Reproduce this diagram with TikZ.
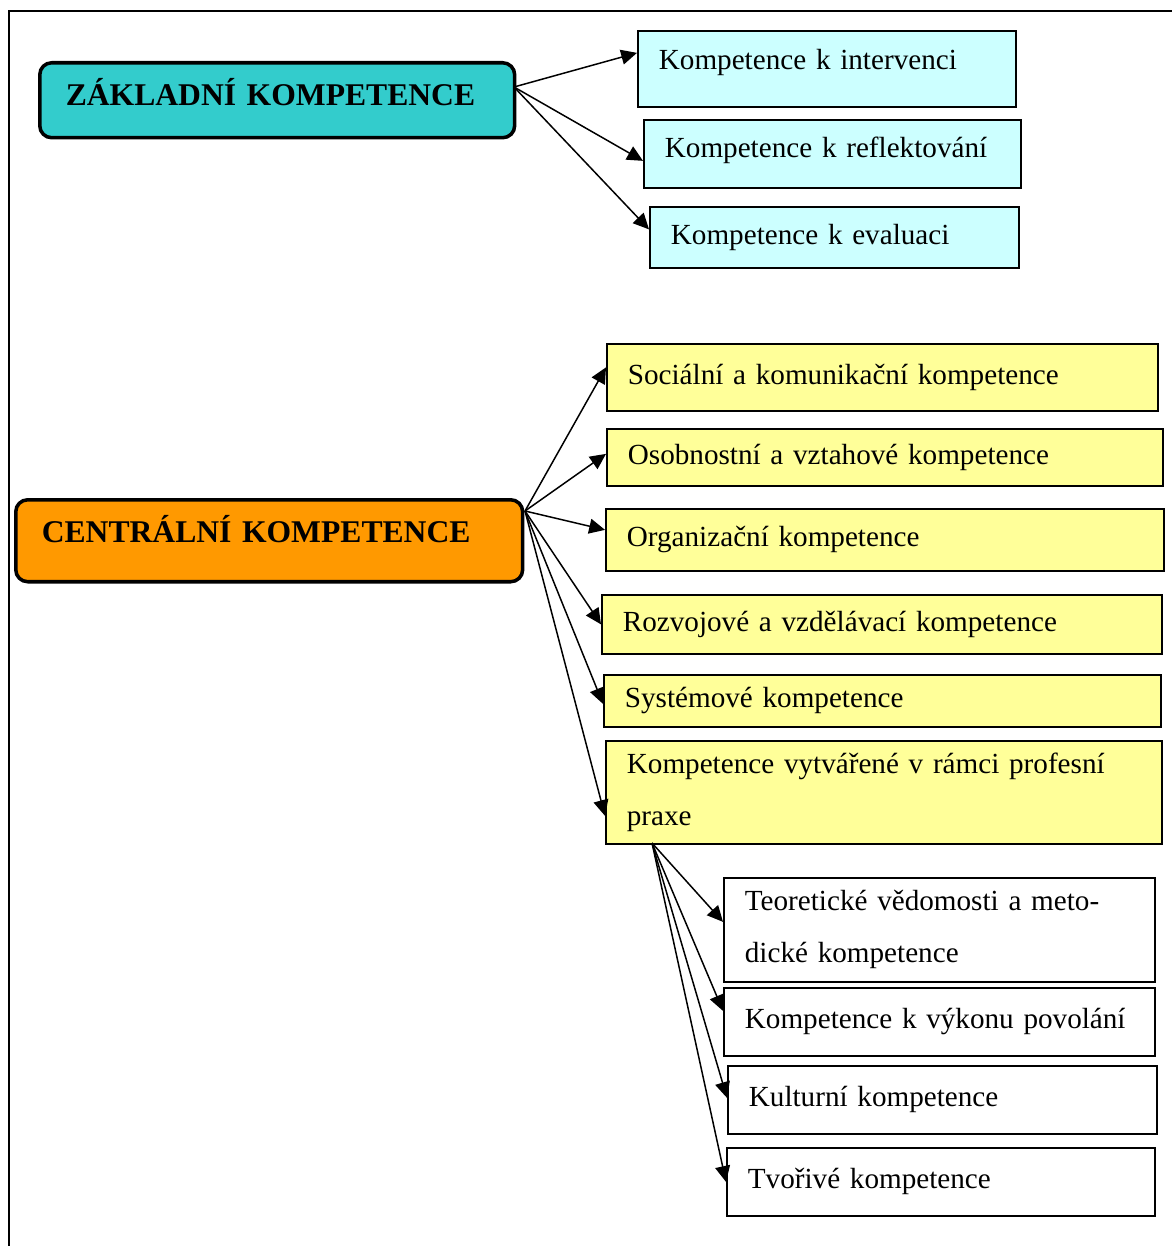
\documentclass[tikz,border=0pt]{standalone}
\usepackage{fontspec}
\setmainfont{Liberation Serif}
\usetikzlibrary{arrows.meta}

\definecolor{tealfill}{HTML}{33CCCC}
\definecolor{cyanfill}{HTML}{CCFFFF}
\definecolor{orangefill}{HTML}{FF9900}
\definecolor{yellowfill}{HTML}{FFFF99}

\begin{document}
\begin{tikzpicture}[x=0.02cm, y=-0.02cm, >={Triangle[length=9pt,width=8.5pt]},
  box/.style={draw, line width=1pt, anchor=north west, align=left, inner xsep=0.42cm, inner ysep=0pt,
    font=\fontsize{16.6}{29.6}\selectfont},
  cyanbox/.style={box, fill=cyanfill},
  yellowbox/.style={box, fill=yellowfill},
  whitebox/.style={box, fill=white},
  headbox/.style={draw, line width=2pt, rounded corners=0.24cm, anchor=north west, align=left,
    inner xsep=0.52cm, inner ysep=0pt, font=\bfseries\fontsize{18}{20}\selectfont},
  link/.style={->, line width=0.85pt}]
  \useasboundingbox (0,0) rectangle (1172,1246);
  \draw[line width=1.2pt] (9,1246) -- (9,11) -- (1172,11);

  \node[headbox, fill=tealfill, text width=8.46cm, minimum height=1.5cm, text depth=0.35cm] (zak) at (38,61) {ZÁKLADNÍ KOMPETENCE};
  \node[headbox, fill=orangefill, text width=9.1cm, minimum height=1.64cm, text depth=0.48cm] (cen) at (14,498) {CENTRÁLNÍ KOMPETENCE};

  \node[cyanbox, text width=6.72cm, minimum height=1.52cm, text depth=0.36cm] (int) at (637,30) {Kompetence k intervenci};
  \node[cyanbox, text width=6.7cm, minimum height=1.36cm, text depth=0.28cm] (refl) at (643,119) {Kompetence k reflektování};
  \node[cyanbox, text width=6.54cm, minimum height=1.22cm] (eval) at (649,206) {Kompetence k evaluaci};

  \node[yellowbox, text width=10.18cm, minimum height=1.34cm] (soc) at (606,343) {Sociální a komunikační kompetence};
  \node[yellowbox, text width=10.28cm, minimum height=1.14cm] (osob) at (606,428) {Osobnostní a vztahové kompetence};
  \node[yellowbox, text width=10.32cm, minimum height=1.24cm] (org) at (605,508) {Organizační kompetence};
  \node[yellowbox, text width=10.36cm, minimum height=1.18cm] (rozv) at (601,594) {Rozvojové a vzdělávací kompetence};
  \node[yellowbox, text width=10.3cm, minimum height=1.04cm] (sys) at (603,674) {Systémové kompetence};
  \node[yellowbox, text width=10.28cm, minimum height=2.06cm] (prax) at (605,740) {Kompetence vytvářené v rámci profesní\\praxe};

  \node[whitebox, text width=7.78cm, minimum height=2.08cm] (teor) at (723,877) {Teoretické vědomosti a meto-\\dické kompetence};
  \node[whitebox, text width=7.78cm, minimum height=1.36cm] (vyk) at (723,987) {Kompetence k výkonu povolání};
  \node[whitebox, text width=7.74cm, minimum height=1.36cm] (kult) at (727,1065) {Kulturní kompetence};
  \node[whitebox, text width=7.72cm, minimum height=1.36cm] (tvor) at (726,1147) {Tvořivé kompetence};

  \coordinate (zo) at (514,87);
  \coordinate (co) at (525,511);
  \coordinate (po) at (652,843);

  \draw[link] (zo) -- ([yshift=0.32cm]int.west);
  \draw[link] (zo) -- ([yshift=-0.14cm]refl.west);
  \draw[link] (zo) -- ([yshift=0.16cm]eval.west);

  \draw[link] (co) -- ([yshift=0.2cm]soc.west);
  \draw[link] (co) -- ([yshift=0.07cm]osob.west);
  \draw[link] (co) -- ([yshift=0.2cm]org.west);
  \draw[link] (co) -- (rozv.west);
  \draw[link] (co) -- ([yshift=-0.06cm]sys.west);
  \draw[link] (co) -- ([yshift=-0.47cm]prax.west);

  \draw[link] (po) -- ([yshift=0.16cm]teor.west);
  \draw[link] (po) -- ([yshift=0.22cm]vyk.west);
  \draw[link] (po) -- ([yshift=0.04cm]kult.west);
  \draw[link] (po) -- (tvor.west);
\end{tikzpicture}
\end{document}
